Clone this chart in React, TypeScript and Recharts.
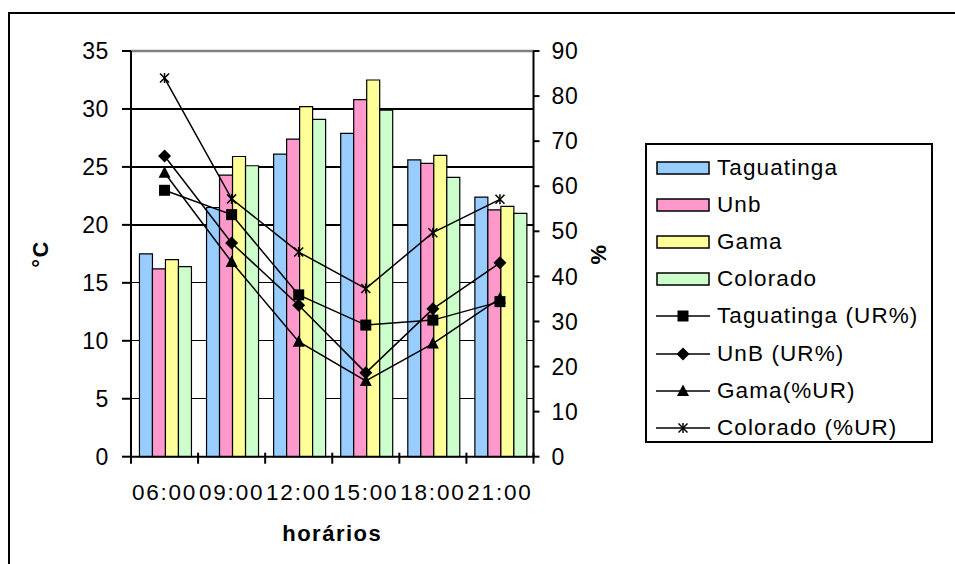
import React from 'react';
import { ComposedChart, Bar, Line, XAxis, YAxis, CartesianGrid, ReferenceLine, Label } from 'recharts';

// horários de medição
const hours = ['06:00', '09:00', '12:00', '15:00', '18:00', '21:00'];

// temperatura (°C) – barras
const tempTaguatinga = [17.5, 21.5, 26.1, 27.9, 25.6, 22.4];
const tempUnb = [16.2, 24.3, 27.4, 30.8, 25.3, 21.3];
const tempGama = [17.0, 25.9, 30.2, 32.5, 26.0, 21.6];
const tempColorado = [16.4, 25.1, 29.1, 29.9, 24.1, 21.0];

// umidade relativa (%) – linhas
const urTaguatinga = [59.1, 53.7, 35.9, 29.2, 30.3, 34.4];
const urUnb = [66.7, 47.4, 33.6, 18.6, 32.8, 43.0];
const urGama = [63.0, 43.2, 25.5, 16.8, 25.1, 35.1];
const urColorado = [84.0, 57.2, 45.4, 37.3, 49.7, 57.1];

const tempTicks = [0, 5, 10, 15, 20, 25, 30, 35];
const urTicks = [0, 10, 20, 30, 40, 50, 60, 70, 80, 90];

const barSeries = [
  { key: 'tTag', name: 'Taguatinga', color: '#99CCFF' },
  { key: 'tUnb', name: 'Unb', color: '#FF99CC' },
  { key: 'tGama', name: 'Gama', color: '#FFFF99' },
  { key: 'tCol', name: 'Colorado', color: '#CCFFCC' },
];
const lineSeries = [
  { key: 'uTag', name: 'Taguatinga (UR%)', marker: 'square' },
  { key: 'uUnb', name: 'UnB (UR%)', marker: 'diamond' },
  { key: 'uGama', name: 'Gama(%UR)', marker: 'triangle' },
  { key: 'uCol', name: 'Colorado (%UR)', marker: 'star' },
];

const data = hours.map((hour, i) => ({
  hour,
  tTag: tempTaguatinga[i],
  tUnb: tempUnb[i],
  tGama: tempGama[i],
  tCol: tempColorado[i],
  uTag: urTaguatinga[i],
  uUnb: urUnb[i],
  uGama: urGama[i],
  uCol: urColorado[i],
}));

const FONT = '"Liberation Sans", Arial, sans-serif';
const W = 955;
const H = 564;
const PLOT_LEFT = 131;
const PLOT_RIGHT = 533.5;
const BAND = (PLOT_RIGHT - PLOT_LEFT) / hours.length;
const X_TICK_SIZE = 7;
const X_TICK_MARGIN = 20;

const Marker = ({ type, cx, cy }: { type: string; cx: number; cy: number }) => {
  if (type === 'square') {
    return <rect x={cx - 5.5} y={cy - 5.5} width={11} height={11} fill="#000" />;
  }
  if (type === 'diamond') {
    return <polygon points={`${cx},${cy - 6.5} ${cx + 6.5},${cy} ${cx},${cy + 6.5} ${cx - 6.5},${cy}`} fill="#000" />;
  }
  if (type === 'triangle') {
    return <polygon points={`${cx},${cy - 6.5} ${cx + 6},${cy + 5} ${cx - 6},${cy + 5}`} fill="#000" />;
  }
  return (
    <g stroke="#000" strokeWidth={1.5}>
      <line x1={cx - 4.5} y1={cy - 4.5} x2={cx + 4.5} y2={cy + 4.5} />
      <line x1={cx - 4.5} y1={cy + 4.5} x2={cx + 4.5} y2={cy - 4.5} />
      <line x1={cx} y1={cy - 5} x2={cx} y2={cy + 5} />
    </g>
  );
};

const makeDot = (type: string) => (p: any) => {
  if (p.cx == null || p.cy == null) return <g key={p.index} />;
  return <Marker key={p.index} type={type} cx={p.cx} cy={p.cy} />;
};

// rótulo do eixo X com marcas entre as categorias (como no Excel)
const HourTick = (props: any) => {
  const { x, y, payload, index } = props;
  const axisY = y - X_TICK_SIZE - X_TICK_MARGIN;
  const left = x - BAND / 2;
  return (
    <g>
      <line x1={left} y1={axisY - 4} x2={left} y2={axisY + X_TICK_SIZE} stroke="#000" strokeWidth={2} />
      {index === hours.length - 1 && (
        <line x1={x + BAND / 2} y1={axisY - 4} x2={x + BAND / 2} y2={axisY + X_TICK_SIZE} stroke="#000" strokeWidth={2} />
      )}
      <text x={x} y={y} dy="0.71em" textAnchor="middle" fontSize={22.5} fontFamily={FONT} fill="#000" letterSpacing={1.8}>
        {payload.value}
      </text>
    </g>
  );
};

const LegendBox = () => (
  <div
    style={{
      position: 'absolute',
      left: 645,
      top: 143,
      width: 284,
      height: 296,
      border: '2px solid #000',
      background: '#fff',
      fontFamily: FONT,
      fontSize: 22.5,
      letterSpacing: 1.1,
      boxSizing: 'content-box',
    }}
  >
    {[...barSeries, ...lineSeries].map((s: any, i) => (
      <div
        key={s.key}
        style={{ position: 'absolute', left: 8, top: 4 + i * 37.2, height: 37, display: 'flex', alignItems: 'center' }}
      >
        <svg width={56} height={20} style={{ marginRight: 6 }}>
          {s.color ? (
            <rect x={2} y={4} width={52} height={12} fill={s.color} stroke="#000" strokeWidth={1.5} />
          ) : (
            <g>
              <line x1={1} y1={10} x2={55} y2={10} stroke="#000" strokeWidth={1.5} />
              <Marker type={s.marker} cx={28} cy={10} />
            </g>
          )}
        </svg>
        <span style={{ whiteSpace: 'nowrap' }}>{s.name}</span>
      </div>
    ))}
  </div>
);

export default function App() {
  const tickStyle = { fontSize: 23, fontFamily: FONT, fill: '#000', letterSpacing: 0.6 };
  const titleStyle = { fontSize: 22, fontFamily: FONT, fontWeight: 'bold', fill: '#000', letterSpacing: 1.5 };
  return (
    <div style={{ position: 'absolute', left: 0, top: 0, width: W, height: H, overflow: 'hidden', background: '#fff' }}>
      <div
        style={{
          position: 'absolute',
          left: 8,
          top: 12,
          width: 1000,
          height: 600,
          borderLeft: '2px solid #000',
          borderTop: '2px solid #000',
        }}
      />
      <div style={{ position: 'absolute', left: 0, top: 0 }}>
        <ComposedChart
          width={W}
          height={H}
          data={data}
          margin={{ top: 51, right: W - PLOT_RIGHT - 70, bottom: 17.3, left: 0 }}
          barCategoryGap="12.6%"
          barGap={0}
        >
          <CartesianGrid
            yAxisId="temp"
            horizontal
            vertical={false}
            stroke="#000"
            strokeWidth={1.3}
            strokeOpacity={1}
            shapeRendering="crispEdges"
          />
          <XAxis
            dataKey="hour"
            height={90}
            interval={0}
            tickLine={false}
            tickSize={X_TICK_SIZE}
            tickMargin={X_TICK_MARGIN}
            axisLine={{ stroke: '#000', strokeWidth: 2 }}
            tick={<HourTick />}
          >
            <Label value="horários" position="center" dy={31} style={titleStyle} />
          </XAxis>
          <YAxis
            yAxisId="temp"
            orientation="left"
            width={PLOT_LEFT}
            domain={[0, 35]}
            ticks={tempTicks}
            interval={0}
            axisLine={{ stroke: '#000', strokeWidth: 2 }}
            tickLine={{ stroke: '#000', strokeWidth: 2 }}
            tickSize={9}
            tickMargin={13}
            tick={tickStyle}
          >
            <Label value="°C" angle={-90} position="center" dx={-25} style={titleStyle} />
          </YAxis>
          <YAxis
            yAxisId="ur"
            orientation="right"
            width={70}
            domain={[0, 90]}
            ticks={urTicks}
            interval={0}
            axisLine={{ stroke: '#000', strokeWidth: 2 }}
            tickLine={{ stroke: '#000', strokeWidth: 2 }}
            tickSize={6}
            tickMargin={12}
            tick={tickStyle}
          >
            <Label value="%" angle={-90} position="center" dx={30} style={titleStyle} />
          </YAxis>
          <ReferenceLine yAxisId="temp" y={35} stroke="#808080" strokeWidth={2.5} />
          {barSeries.map((s) => (
            <Bar
              key={s.key}
              yAxisId="temp"
              dataKey={s.key}
              name={s.name}
              fill={s.color}
              stroke="#000"
              strokeWidth={1.2}
              isAnimationActive={false}
            />
          ))}
          {lineSeries.map((s) => (
            <Line
              key={s.key}
              yAxisId="ur"
              type="linear"
              dataKey={s.key}
              name={s.name}
              stroke="#000"
              strokeWidth={1.5}
              dot={makeDot(s.marker)}
              activeDot={false}
              isAnimationActive={false}
            />
          ))}
        </ComposedChart>
      </div>
      <LegendBox />
    </div>
  );
}
